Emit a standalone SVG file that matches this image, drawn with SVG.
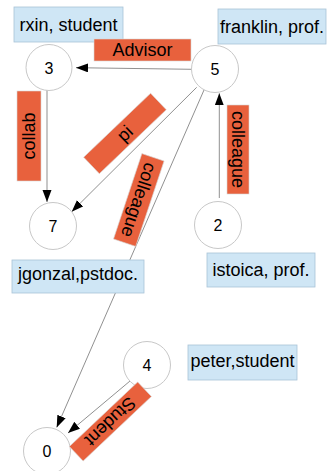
<svg xmlns="http://www.w3.org/2000/svg" width="329" height="471" viewBox="0 0 329 471">
<style>
.node circle{fill:#fff;stroke:#c8c8c8;stroke-width:1}
.node text{font-family:"Liberation Sans",Arial,sans-serif;font-size:16px;fill:#000;text-anchor:middle}
.info rect{fill:#cfe6f5;stroke:#a9c3d6;stroke-width:0.8}
.info text,.lbl text{font-family:"Liberation Sans",Arial,sans-serif;font-size:18px;fill:#000;text-anchor:middle}
.edge line{stroke:#444;stroke-width:0.6;marker-end:url(#arr)}
.lbl rect{fill:#e8613d;stroke:#d8d8d8;stroke-width:0.6}
</style>
<defs>
<marker id="arr" markerUnits="userSpaceOnUse" markerWidth="12" markerHeight="10" refX="12" refY="4.5" orient="auto">
<path d="M0,0 L12,4.5 L0,9 z" fill="#000"/>
</marker>
</defs>
<rect width="329" height="471" fill="#fff"/>
<g id="connectors">
<g class="edge" id="e5-3"><line x1="191.7" y1="69.3" x2="76" y2="67.7"/></g>
<g class="edge" id="e3-7"><line x1="47" y1="88" x2="47" y2="202"/></g>
<g class="edge" id="e5-7"><line x1="196.7" y1="87.3" x2="71.7" y2="211.7"/></g>
<g class="edge" id="e2-5"><line x1="219.3" y1="198" x2="219.3" y2="93.3"/></g>
<g class="edge" id="e5-0"><line x1="204" y1="90" x2="56.7" y2="427.5"/></g>
<g class="edge" id="e4-0"><line x1="130" y1="381" x2="68" y2="433"/></g>
</g>
<g id="node3" class="node"><circle cx="49" cy="67.5" r="23"/><text x="49" y="73.5">3</text></g>
<g id="node5" class="node"><circle cx="215" cy="69" r="23.5"/><text x="215" y="75">5</text></g>
<g id="node7" class="node"><circle cx="53" cy="226" r="23.5"/><text x="53" y="232">7</text></g>
<g id="node2" class="node"><circle cx="218" cy="225" r="23.5"/><text x="218" y="231">2</text></g>
<g id="node4" class="node"><circle cx="147" cy="365" r="23.5"/><text x="147" y="371">4</text></g>
<g id="node0" class="node"><circle cx="47" cy="451" r="23.5"/><text x="47" y="457">0</text></g>
<g id="info3" class="info"><rect x="14" y="7" width="109" height="35"/><text x="68.5" y="31">rxin, student</text></g>
<g id="info5" class="info"><rect x="218" y="9" width="108" height="35"/><text x="272" y="33">franklin, prof.</text></g>
<g id="info7" class="info"><rect x="12" y="260" width="132" height="33"/><text x="78" y="280">jgonzal,pstdoc.</text></g>
<g id="info2" class="info"><rect x="207" y="253" width="108" height="34"/><text x="261" y="276">istoica, prof.</text></g>
<g id="info4" class="info"><rect x="188" y="345" width="109" height="35"/><text x="242.5" y="367">peter,student</text></g>
<g id="labels">
<g class="lbl" id="l5-3"><rect x="94" y="39" width="97" height="22"/><text x="142.5" y="56">Advisor</text></g>
<g class="lbl" id="l3-7" transform="translate(29,136) rotate(-90)"><rect x="-45" y="-12" width="90" height="24"/><text x="0" y="6">collab</text></g>
<g class="lbl" id="l5-7" transform="translate(125,133.5) rotate(-43.7)"><rect x="-46.3" y="-11.4" width="92.6" height="22.7"/><text x="0" y="6">pi</text></g>
<g class="lbl" id="l2-5" transform="translate(238,149.5) rotate(90)"><rect x="-44.5" y="-11" width="89" height="22"/><text x="0" y="6">colleague</text></g>
<g class="lbl" id="l5-0" transform="translate(138.8,200) rotate(108.4)"><rect x="-45" y="-11.7" width="90" height="23.4"/><text x="0" y="6">colleague</text></g>
<g class="lbl" id="l4-0" transform="translate(110.4,421.5) rotate(136.6)"><rect x="-47" y="-10" width="94" height="20"/><text x="0" y="6">Student</text></g>
</g>
</svg>
